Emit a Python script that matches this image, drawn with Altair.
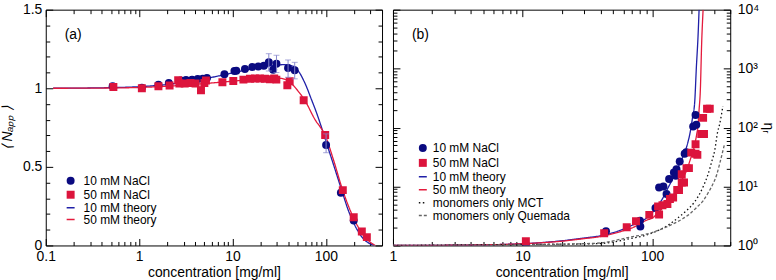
import altair as alt
import pandas as pd

FONT = "Liberation Sans"
BLUE_PT = "#0a0a80"
RED_PT = "#dc143c"
BLUE_LN = "#2020a8"
RED_LN = "#e41a3c"
ERR_COL = "#8585cc"

# ---------------- panel (a) : <N_app> vs concentration ----------------
a10_c = [0.52, 1.07, 1.61, 2.08, 2.78, 3.18, 3.69, 4.24, 4.80, 5.33, 8.2, 10.5, 11.0,
         13.6, 16.3, 18.9, 21.7, 24.5, 27.3, 29.6, 39.4, 46.4, 100.7, 145, 199]
a10_n = [1.013, 1.004, 1.023, 1.034, 1.049, 1.053, 1.055, 1.059, 1.061, 1.065, 1.089, 1.110, 1.112,
         1.122, 1.135, 1.139, 1.143, 1.165, 1.118, 1.156, 1.129, 1.114, 0.639, 0.335, 0.158]
a50_c = [0.53, 1.07, 1.61, 2.12, 2.62, 2.70, 3.08, 3.55, 4.02, 4.60, 5.0, 5.2, 7.8, 10.2, 13.1,
         15.4, 17.4, 19.7, 22.3, 25.2, 28.0, 29.5, 38.7, 41.0, 57.9, 98.4, 152, 199, 243, 275]
a50_n = [1.008, 1.000, 1.013, 1.017, 1.051, 1.030, 1.030, 1.034, 1.030, 0.988, 1.034, 1.050, 1.038, 1.046, 1.055,
         1.060, 1.062, 1.062, 1.060, 1.058, 1.063, 1.055, 1.019, 1.044, 0.924, 0.703, 0.352, 0.179, 0.089, 0.053]
err_c = [24.5, 29.6, 39.4, 46.4, 100.7]
err_lo = [1.110, 1.100, 1.070, 1.060, 0.590]
err_hi = [1.220, 1.210, 1.180, 1.165, 0.710]
at10_c = [0.12, 0.5, 1, 2, 3, 5, 8, 12, 18, 25, 35, 45, 50, 60, 70, 80, 90, 100, 120, 150,
          175, 200, 250, 300, 330]
at10_n = [1.0, 1.004, 1.01, 1.024, 1.038, 1.06, 1.085, 1.108, 1.128, 1.142, 1.15, 1.14, 1.115, 1.03,
          0.93, 0.84, 0.75, 0.665, 0.52, 0.34, 0.22, 0.14, 0.045, 0.01, 0.0]
at50_c = [0.12, 0.5, 1, 2, 5, 10, 20, 30, 35, 40, 50, 60, 75, 100, 120, 150, 175, 200, 250, 300, 340]
at50_n = [1.0, 1.002, 1.005, 1.013, 1.03, 1.045, 1.06, 1.065, 1.06, 1.045, 0.985, 0.92, 0.81, 0.69,
          0.55, 0.36, 0.25, 0.17, 0.07, 0.02, 0.0]

# ---------------- panel (b) : eta_r vs concentration ----------------
b10_c = [10.6, 44, 80.5, 81, 106, 113, 122, 129, 135, 147, 152, 154, 163, 178, 183, 207, 219, 216]
b10_e = [1.02, 1.74, 2.64, 2.09, 4.33, 9.6, 10.0, 7.45, 13.4, 17.3, 15.2, 19.7, 26.5, 36, 38, 104, 112, 163]
b50_c = [10.6, 42.6, 63.6, 75, 95, 111, 113, 120, 131, 137, 145, 156, 161, 169, 176, 169, 184, 192,
         200, 216, 223, 216, 239, 251, 247, 265, 278]
b50_e = [1.18, 1.61, 2.04, 2.57, 3.3, 4.6, 3.34, 4.8, 5.06, 6.14, 6.5, 8.7, 8.7, 11.7, 11.7, 16.2, 20.5, 20.5,
         37.6, 36, 34.4, 52, 78, 78, 146, 208, 208]
bt10_c = [1, 3, 10, 20, 31, 37, 45, 56, 70, 85, 100, 108, 120, 129, 140, 154, 165, 178, 188, 195,
          205, 213, 219, 226, 230]
bt10_e = [1.0, 1.01, 1.07, 1.2, 1.35, 1.42, 1.55, 1.79, 2.2, 2.64, 3.6, 4.43, 6.2, 8.5, 12, 18.4,
          26, 37.6, 55, 77, 150, 280, 1020, 3740, 10000]
bt50_c = [1, 3, 10, 20, 31, 37, 56, 72, 89, 102, 115, 129, 140, 154, 163, 173, 185, 195, 205, 213,
          220, 226, 230, 235, 241, 247]
bt50_e = [1.0, 1.01, 1.07, 1.18, 1.32, 1.38, 1.7, 2.04, 2.64, 3.0, 3.9, 5.06, 6.4, 8.5, 11, 14.2,
          19, 27, 38, 52, 75, 113, 200, 413, 2884, 10000]
bmct_c = [1, 10, 37, 67, 96, 120, 137, 160, 184, 210, 232, 250, 270, 290, 303, 320, 331, 351]
bmct_e = [1.0, 1.04, 1.07, 1.30, 1.57, 1.95, 2.32, 3.0, 3.9, 5.3, 7.46, 10.5, 16.2, 28, 40, 85, 113, 231]
bque_c = [1, 10, 37, 67, 102, 125, 145, 170, 195, 220, 247, 270, 294, 315, 331, 361]
bque_e = [1.0, 1.03, 1.09, 1.38, 1.68, 2.0, 2.32, 2.8, 3.43, 4.4, 5.7, 7.8, 11, 16, 24, 52]

A_DOM = ["10 mM NaCl", "50 mM NaCl", "10 mM theory", "50 mM theory"]
B_DOM = A_DOM + ["monomers only MCT", "monomers only Quemada"]


def long(parts):
    rows = []
    for name, cs, vs in parts:
        for i, (c, v) in enumerate(zip(cs, vs)):
            rows.append({"c": c, "v": v, "series": name, "i": i})
    return pd.DataFrame(rows)


MAJ_LOG = "abs(log(datum.value)/LN10 - round(log(datum.value)/LN10)) < 0.000001"
MAJ_HALF = "abs(datum.value*2 - round(datum.value*2)) < 0.000001"


def mk_axis(orient, values, major, label_expr=None, pad=0, title=None, title_pad=0, italic=False):
    kw = dict(orient=orient, values=values, domain=False, grid=False,
              tickSize=alt.ExprRef(f"({major}) ? -7 : -4"),
              tickColor="black", tickWidth=1, title=title)
    if label_expr is not None:
        kw.update(labels=True, labelExpr=f"({major}) ? {label_expr} : ''", labelPadding=pad,
                  labelOverlap=False, labelFlush=False, labelFont=FONT, labelFontSize=14,
                  labelColor="black")
    else:
        kw.update(labels=False)
    if title is not None:
        kw.update(titlePadding=title_pad, titleFont=FONT, titleFontSize=14,
                  titleFontWeight="normal", titleColor="black")
        if italic:
            kw.update(titleFontStyle="italic")
    return alt.Axis(**kw)


def decade_vals(lo_exp, hi_exp, last):
    out = []
    for e in range(lo_exp, hi_exp + 1):
        for m in range(1, 10):
            v = round(m * 10 ** e, 6)
            if v <= last:
                out.append(v)
    return out


def legend(x, y, offset, rowpad):
    return alt.Legend(title=None, orient="none", legendX=x, legendY=y, labelFont=FONT,
                      labelFontSize=12, labelColor="black", labelOffset=offset, rowPadding=rowpad,
                      symbolStrokeWidth=1.5, padding=0)


def panel(pts, lines, dom, fills, strokes, shapes, sizes, dashes, xdom, ydom,
          x_ax, y_ax, x_ax_m, y_ax_m, ylog, leg, tag, extra=None):
    xs = alt.Scale(type="log", domain=xdom)
    ys = alt.Scale(type="log", domain=ydom) if ylog else alt.Scale(domain=ydom)
    fill_s = alt.Scale(domain=dom, range=fills)
    stroke_s = alt.Scale(domain=dom, range=strokes)
    shape_s = alt.Scale(domain=dom, range=shapes)
    size_s = alt.Scale(domain=dom, range=sizes)
    dash_s = alt.Scale(domain=dom, range=dashes)
    X = alt.X("c:Q", scale=xs, axis=x_ax)
    Y = alt.Y("v:Q", scale=ys, axis=y_ax)

    line_layer = alt.Chart(lines).mark_line(strokeWidth=1.3, clip=True, interpolate="monotone").encode(
        x=X, y=Y,
        stroke=alt.Stroke("series:N", scale=stroke_s, legend=leg),
        strokeDash=alt.StrokeDash("series:N", scale=dash_s, legend=leg),
        order="i:Q",
    )
    point_layer = alt.Chart(pts).mark_point(filled=True, opacity=1, clip=True).encode(
        x=X, y=Y,
        fill=alt.Fill("series:N", scale=fill_s, legend=leg),
        stroke=alt.Stroke("series:N", scale=stroke_s, legend=leg),
        strokeDash=alt.StrokeDash("series:N", scale=dash_s, legend=leg),
        shape=alt.Shape("series:N", scale=shape_s, legend=leg),
        size=alt.Size("series:N", scale=size_s, legend=leg),
    )
    layers = [line_layer, point_layer]
    if extra is not None:
        layers += extra(X, ys, y_ax)
    tag_layer = alt.Chart(pd.DataFrame({"t": [tag]})).mark_text(
        font=FONT, fontSize=14, align="left", baseline="middle", color="black").encode(
        x=alt.value(19), y=alt.value(25), text="t:N")
    layers.append(tag_layer)
    inner = alt.layer(*layers)
    mirror = alt.Chart(lines).mark_point(opacity=0, size=1).encode(
        x=alt.X("c:Q", scale=xs, axis=x_ax_m),
        y=alt.Y("v:Q", scale=ys, axis=y_ax_m),
    )
    return alt.layer(inner, mirror).resolve_axis(x="independent", y="independent")


# ---- panel (a)
pts_a = long([("10 mM NaCl", a10_c, a10_n), ("50 mM NaCl", a50_c, a50_n)])
lines_a = long([("10 mM theory", at10_c, at10_n), ("50 mM theory", at50_c, at50_n)])
err_df = pd.DataFrame({"c": err_c, "lo": err_lo, "hi": err_hi})

ax_vals = decade_vals(-1, 2, 400)
ay_vals = [round(0.1 * k, 2) for k in range(0, 16)]


def err_layers(X, ys, y_ax):
    rule = alt.Chart(err_df).mark_rule(color=ERR_COL, strokeWidth=1).encode(
        x=X, y=alt.Y("lo:Q", scale=ys, axis=y_ax), y2="hi:Q")
    cap_lo = alt.Chart(err_df).mark_tick(color=ERR_COL, orient="horizontal", size=6, thickness=1).encode(
        x=X, y=alt.Y("lo:Q", scale=ys, axis=y_ax))
    cap_hi = alt.Chart(err_df).mark_tick(color=ERR_COL, orient="horizontal", size=6, thickness=1).encode(
        x=X, y=alt.Y("hi:Q", scale=ys, axis=y_ax))
    return [rule, cap_lo, cap_hi]


ay_axis = mk_axis("left", ay_vals, MAJ_HALF, "format(datum.value, '~g')", pad=11,
                  title="⟨ Nₐₚₚ ⟩", title_pad=8, italic=True)

panel_a = panel(
    pts_a, lines_a, A_DOM,
    [BLUE_PT, RED_PT, "transparent", "transparent"],
    ["transparent", "transparent", BLUE_LN, RED_LN],
    ["circle", "square", "stroke", "stroke"],
    [64, 64, 169, 169],
    [[1, 0], [1, 0], [1, 0], [1, 0]],
    [0.1, 400], [0, 1.5],
    mk_axis("bottom", ax_vals, MAJ_LOG, "format(datum.value, '~g')", pad=11,
            title="concentration [mg/ml]", title_pad=-1),
    ay_axis,
    mk_axis("top", ax_vals, MAJ_LOG),
    mk_axis("right", ay_vals, MAJ_HALF),
    False, legend(19, 166, 7, 0), "(a)", extra=err_layers,
).properties(width=338, height=237)

# ---- panel (b)
pts_b = long([("10 mM NaCl", b10_c, b10_e), ("50 mM NaCl", b50_c, b50_e)])
lines_b = long([("10 mM theory", bt10_c, bt10_e), ("50 mM theory", bt50_c, bt50_e),
                ("monomers only MCT", bmct_c, bmct_e), ("monomers only Quemada", bque_c, bque_e)])
bx_vals = decade_vals(0, 2, 400)
by_vals = decade_vals(0, 4, 10000)
SUP = "['⁰','¹','²','³','⁴'][round(log(datum.value)/LN10)]"

panel_b = panel(
    pts_b, lines_b, B_DOM,
    [BLUE_PT, RED_PT, "transparent", "transparent", "transparent", "transparent"],
    ["transparent", "transparent", BLUE_LN, RED_LN, "#111111", "#666666"],
    ["circle", "square", "stroke", "stroke", "stroke", "stroke"],
    [64, 64, 169, 169, 169, 169],
    [[1, 0], [1, 0], [1, 0], [1, 0], [1.5, 2.5], [3, 2]],
    [1, 400], [1, 10000],
    mk_axis("bottom", bx_vals, MAJ_LOG, "format(datum.value, '~g')", pad=11,
            title="concentration [mg/ml]", title_pad=-1),
    mk_axis("right", by_vals, MAJ_LOG, "'10' + " + SUP, pad=14,
            title="ηᵣ", title_pad=2),
    mk_axis("top", bx_vals, MAJ_LOG),
    mk_axis("left", by_vals, MAJ_LOG),
    True, legend(24, 133, 4, 1), "(b)",
).properties(width=339, height=237)

chart = alt.hconcat(panel_a, panel_b, spacing=11, bounds="flush").resolve_scale(
    fill="independent", stroke="independent", shape="independent", size="independent",
    strokeDash="independent",
).properties(
    padding={"left": 0, "top": 1, "right": 0, "bottom": 0}
).configure_view(stroke="black", strokeWidth=1)

chart.save("out.html", embed_options={"renderer": "svg", "actions": False})
